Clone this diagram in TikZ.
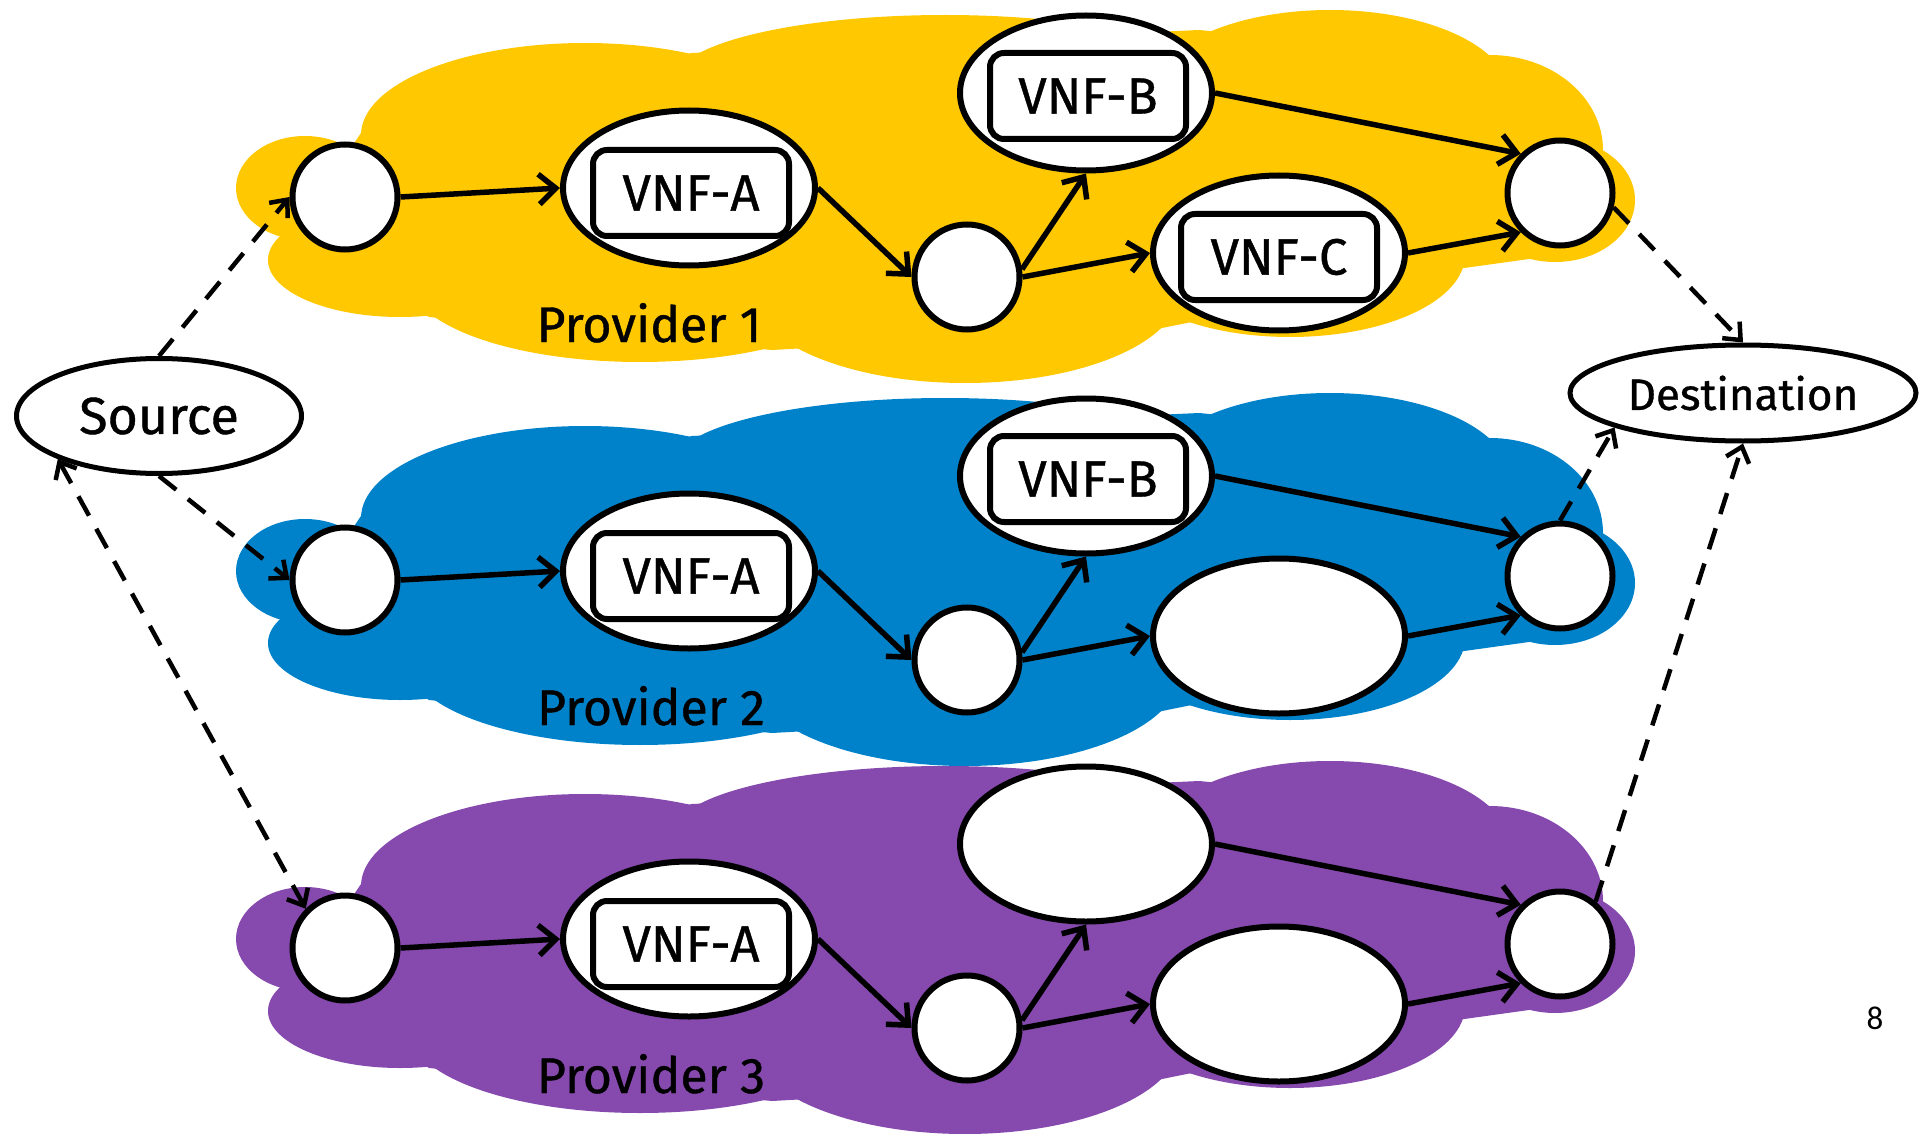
\documentclass[tikz,border=0pt]{standalone}
\usepackage{fontspec}
\setmainfont[FakeBold=0.8]{Fira Sans}
\newfontfamily\pagefont{Carlito}
\usetikzlibrary{arrows.meta,shapes.geometric}
\definecolor{pyellow}{RGB}{255,200,0}
\definecolor{pblue}{RGB}{0,130,202}
\definecolor{ppurple}{RGB}{134,73,173}
\tikzset{
  hop/.style={circle, draw, line width=6pt, fill=white, minimum size=105pt, inner sep=0pt},
  vnfslot/.style={ellipse, draw, line width=6pt, fill=white, minimum width=252pt, minimum height=155pt, inner sep=0pt},
  vnfbox/.style={rectangle, rounded corners=14pt, draw, line width=6pt, fill=white, minimum width=196pt, minimum height=86pt, inner sep=0pt, font=\fontsize{51}{60}\selectfont},
  endpoint/.style={ellipse, draw, line width=5pt, fill=white, inner sep=0pt},
  flow/.style={line width=5.5pt, -{Straight Barb[length=17pt,width=30pt]}},
  route/.style={line width=4.5pt, dash pattern=on 22pt off 15pt, -{Straight Barb[length=14pt,width=24pt]}},
  plabel/.style={anchor=base, font=\fontsize{50}{60}\selectfont}
}
\newcommand{\cloudbody}[2]{%
  \begin{scope}[shift={(0,#2)}]
    \fill[#1] (294,232) -- (361,133) -- (692,53) -- (1199,30) -- (1474,57) -- (1597,140) -- (1572,253) -- (1450,270) -- (1162,328) -- (772,350) -- (429,317) -- cycle;
    \fill[#1] (305,188) ellipse [x radius=69, y radius=52];
    \fill[#1] (585,135) ellipse [x radius=224, y radius=92];
    \fill[#1] (945,80) ellipse [x radius=270, y radius=65];
    \fill[#1] (1330,95) ellipse [x radius=180, y radius=85];
    \fill[#1] (1490,150) ellipse [x radius=113, y radius=95];
    \fill[#1] (1555,200) ellipse [x radius=80, y radius=62];
    \fill[#1] (1290,255) ellipse [x radius=175, y radius=82];
    \fill[#1] (965,290) ellipse [x radius=215, y radius=93];
    \fill[#1] (640,280) ellipse [x radius=230, y radius=82];
    \fill[#1] (400,260) ellipse [x radius=132, y radius=57];
  \end{scope}
}
\begin{document}
\begin{tikzpicture}[x=1pt, y=-1pt]
\useasboundingbox (0,0) rectangle (1920,1134);
% clouds
\cloudbody{pyellow}{0}
\cloudbody{pblue}{383}
\cloudbody{ppurple}{751}
% provider labels
\node[plabel] (p1) at (649,342) {Provider 1};
\node[plabel] (p2) at (651,725) {Provider 2};
\node[plabel] (p3) at (651,1093) {Provider 3};
% provider nodes
\foreach \i/\d in {1/0, 2/383, 3/751} {
  \node[hop] (in\i) at (345,197+\d) {};
  \node[vnfslot] (va\i) at (689,188+\d) {};
  \node[hop] (mid\i) at (967,277+\d) {};
  \node[vnfslot] (vb\i) at (1086,93+\d) {};
  \node[vnfslot] (vc\i) at (1279,253+\d) {};
  \node[hop] (out\i) at (1560,193+\d) {};
  \node[vnfbox] (ba\i) at ([shift={(2,5)}]va\i.center) {VNF-A};
}
\node[vnfbox] (bb1) at ([shift={(2,3)}]vb1.center) {VNF-B};
\node[vnfbox] (bc1) at ([shift={(0,4)}]vc1.center) {VNF-C};
\node[vnfbox] (bb2) at ([shift={(2,3)}]vb2.center) {VNF-B};
% endpoints
\node[endpoint, minimum width=285pt, minimum height=115pt, font=\fontsize{52}{60}\selectfont] (src) at (159,416) {Source};
\node[endpoint, minimum width=346pt, minimum height=96pt, font=\fontsize{44}{52}\selectfont] (dst) at (1743,393) {Destination};
\node[font=\pagefont\fontsize{33}{40}\selectfont] (pg) at (1875,1018) {8};
% solid flows
\foreach \i in {1,2,3} {
  \draw[flow] (in\i.east) -- (va\i.west);
  \draw[flow] (va\i.east) -- (mid\i.west);
  \draw[flow] (mid\i.8) -- (vb\i.south);
  \draw[flow] (mid\i.east) -- (vc\i.west);
  \draw[flow] (vb\i.east) -- (out\i.north west);
  \draw[flow] (vc\i.east) -- (out\i.south west);
}
% dashed routes
\draw[route] (src.north) -- (in1.west);
\draw[route] (src.south) -- (in2.west);
\draw[route, {Straight Barb[length=14pt,width=24pt]}-{Straight Barb[length=14pt,width=24pt]}] (src.203) -- (in3.north west);
\draw[route] (out1.-15) -- (dst.north);
\draw[route] (out2.north) -- (dst.195);
\draw[route] (out3.50) -- (dst.south);
\end{tikzpicture}
\end{document}
